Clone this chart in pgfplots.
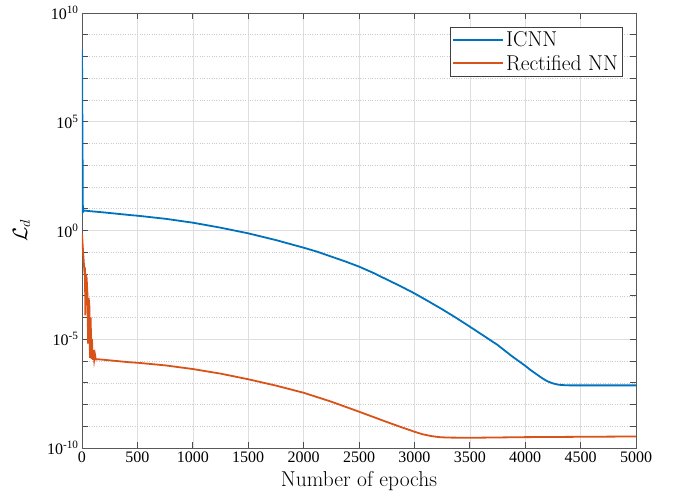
\documentclass[border=0pt]{standalone}
\usepackage{fontspec}
\usepackage{pgfplots}
\pgfplotsset{compat=1.18}
\newfontfamily\tnr{Liberation Serif}
\definecolor{mblue}{RGB}{0,114,189}
\definecolor{morange}{RGB}{217,83,25}

\pgfplotstableread{
x y
0 2.0e8
8 7.08
20 8.32
50 7.94
200 6.76
433 5.13
500 4.79
750 3.47
1000 2.29
1250 1.35
1500 0.741
1750 0.363
2000 0.162
2125 0.105
2250 0.0631
2375 0.0380
2500 0.0219
2625 0.0115
2750 5.62e-3
2875 2.75e-3
3000 1.29e-3
3125 5.62e-4
3250 2.40e-4
3375 9.77e-5
3500 3.80e-5
3625 1.45e-5
3750 5.50e-6
3875 1.74e-6
4000 6.03e-7
4050 3.80e-7
4100 2.51e-7
4150 1.66e-7
4200 1.17e-7
4250 9.33e-8
4300 8.13e-8
4350 7.76e-8
4400 7.59e-8
5000 7.59e-8
}\icnn

\pgfplotstableread{
x y
0 0.741
10 0.1
22 0.0126
27 0.0141
30 1.26e-4
35 0.01
42 6.31e-3
50 1e-3
55 6.31e-6
60 7.94e-4
67 3.16e-4
72 1.41e-6
78 1e-4
85 1.26e-6
90 1e-5
97 1.12e-6
103 3.16e-6
110 1.12e-6
117 2.0e-6
125 1.17e-6
150 1.20e-6
433 8.71e-7
500 8.32e-7
750 6.31e-7
1000 4.27e-7
1250 2.63e-7
1500 1.45e-7
1750 7.41e-8
2000 3.47e-8
2250 1.35e-8
2500 4.68e-9
2750 1.58e-9
2875 9.33e-10
3000 5.62e-10
3075 4.27e-10
3150 3.55e-10
3225 3.16e-10
3300 3.02e-10
3500 2.95e-10
4000 3.16e-10
5000 3.39e-10
}\rnn

\begin{document}
\begin{tikzpicture}
\begin{axis}[
  at={(0,0)}, anchor=south west,
  scale only axis, width=554pt, height=435pt,
  xmin=0, xmax=5000, ymode=log, ymin=1e-10, ymax=1e10,
  xtick={0,500,...,5000},
  ytick={1e-10,1e-5,1,1e5,1e10},
  yticklabels={10\textsuperscript{-10},10\textsuperscript{-5},10\textsuperscript{0},10\textsuperscript{5},10\textsuperscript{10}},
  minor ytick={1e-9,1e-8,1e-7,1e-6,1e-4,1e-3,1e-2,1e-1,10,100,1e3,1e4,1e6,1e7,1e8,1e9},
  grid=both,
  major grid style={color=black!13, line width=0.6pt},
  minor grid style={color=black!20, dotted, line width=0.5pt},
  tick align=inside, major tick length=6pt, minor tick length=6pt,
  tick style={color=black!70, line width=0.8pt},
  axis line style={black!65, line width=0.9pt},
  ticklabel style={font=\tnr\fontsize{16}{19}\selectfont},
  /pgf/number format/assume math mode=true,
  /pgf/number format/1000 sep={},
  xlabel={Number of epochs}, ylabel={$\mathcal{L}_d$},
  label style={font=\fontsize{21.5}{25}\selectfont},
  xlabel style={yshift=-2pt},
  ylabel style={yshift=10pt},
  legend style={at={(rel axis cs:0.975,0.968)}, anchor=north east,
    font=\fontsize{21.5}{26}\selectfont, draw=black!75,
    inner xsep=2pt, inner ysep=2.5pt, row sep=3pt},
  legend cell align=left,
]
\addlegendimage{mblue, line width=2pt, legend image code/.code={\draw[mblue, line width=2pt] (0pt,0pt) -- (50pt,0pt);}}
\addlegendentry{ICNN}
\addlegendimage{morange, line width=2pt, legend image code/.code={\draw[morange, line width=2pt] (0pt,0pt) -- (50pt,0pt);}}
\addlegendentry{Rectified NN}
\addplot[mblue, line width=1.8pt, forget plot] table[x=x,y=y]{\icnn};
\addplot[morange, line width=1.8pt, forget plot] table[x=x,y=y]{\rnn};
\end{axis}
\path (-82pt,-55pt) rectangle (594pt,448pt);
\end{tikzpicture}
\end{document}
